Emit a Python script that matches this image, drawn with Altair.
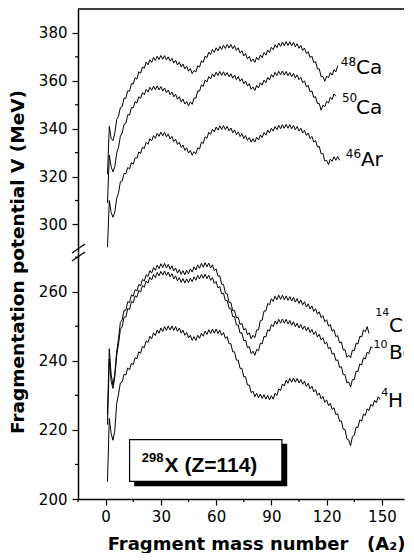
import altair as alt
import pandas as pd

# ---------------- data (fragment mass number A2 starts at 1) ----------------
A_START = 1

ca48 = [321, 341, 336, 335, 338.2, 343.8, 345.2, 348.8, 349.2, 352.8,
        352.7, 355.8, 355.7, 358.8, 358.7, 361.3, 360.7, 363.8, 363.2, 365.8,
        365.2, 367.8, 366.7, 368.8, 367.7, 369.8, 368.5, 370.3, 368.9, 370.6,
        369.0, 370.5, 368.7, 370.0, 368.2, 369.4, 367.4, 368.6, 366.6, 367.8,
        365.8, 367.0, 365.0, 366.1, 364.0, 365.1, 363.0, 364.3, 363.7, 366.3,
        365.7, 368.3, 367.7, 370.3, 369.7, 372.0, 371.0, 373.1, 371.9, 373.8,
        372.5, 374.4, 373.1, 374.9, 373.5, 375.2, 373.7, 375.2, 373.4, 374.7,
        372.7, 373.8, 371.6, 372.6, 370.4, 371.4, 369.2, 370.2, 368.0, 369.1,
        367.7, 369.8, 368.7, 370.8, 369.7, 371.8, 370.7, 372.8, 371.8, 374.0,
        373.0, 375.1, 373.9, 375.8, 374.4, 376.2, 374.7, 376.4, 374.8, 376.3,
        374.6, 376.0, 374.2, 375.5, 373.6, 374.8, 372.7, 373.7, 371.4, 372.2,
        369.7, 370.3, 367.6, 368.0, 365.0, 365.0, 361.7, 361.8, 359.8, 362.0,
        361.2, 363.4, 362.4, 364.6, 363.7, 366.3]

ca50 = [309, 329, 324, 322, 324.2, 329.8, 332.2, 336.8, 338.2, 341.8,
        342.2, 345.8, 345.7, 348.8, 348.7, 351.3, 350.7, 353.3, 352.7, 355.1,
        354.2, 356.4, 355.3, 357.3, 356.0, 357.8, 356.3, 357.9, 356.2, 357.6,
        355.7, 357.0, 355.0, 356.2, 354.2, 355.4, 353.3, 354.4, 352.3, 353.4,
        351.3, 352.4, 350.3, 351.4, 349.5, 351.2, 350.2, 352.8, 352.7, 355.8,
        355.7, 358.3, 357.7, 360.3, 359.5, 361.8, 360.8, 362.9, 361.7, 363.6,
        362.2, 363.9, 362.3, 363.8, 362.1, 363.5, 361.7, 363.0, 361.1, 362.4,
        360.5, 361.8, 359.8, 360.9, 358.8, 359.9, 357.8, 358.8, 356.5, 357.4,
        356.0, 358.1, 357.0, 359.2, 358.2, 360.3, 359.2, 361.4, 360.4, 362.6,
        361.5, 363.5, 362.2, 364.0, 362.5, 364.1, 362.4, 363.9, 362.1, 363.5,
        361.7, 363.1, 361.2, 362.5, 360.5, 361.5, 359.2, 360.0, 357.5, 358.1,
        355.4, 355.8, 353.0, 353.4, 350.5, 350.5, 347.7, 349.8, 349.2, 351.5,
        350.7, 353.1, 352.2, 354.5, 353.6]

ar46 = [290.5, 310, 305, 303, 305.2, 310.8, 313.2, 317.8, 318.2, 321.3,
        321.2, 323.8, 323.2, 325.8, 325.2, 327.8, 327.7, 330.3, 329.7, 332.3,
        331.7, 334.3, 333.5, 335.8, 334.9, 337.1, 336.0, 338.1, 336.8, 338.6,
        337.0, 338.5, 336.6, 337.8, 335.7, 336.8, 334.6, 335.6, 333.4, 334.4,
        332.2, 333.2, 331.0, 332.0, 329.8, 330.9, 328.9, 330.4, 329.5, 332.0,
        331.5, 334.3, 333.9, 336.6, 336.0, 338.5, 337.6, 339.8, 338.7, 340.7,
        339.4, 341.2, 339.7, 341.3, 339.6, 341.0, 339.1, 340.3, 338.3, 339.5,
        337.5, 338.7, 336.7, 337.9, 335.9, 337.1, 335.1, 336.3, 334.4, 335.8,
        334.4, 336.4, 335.3, 337.4, 336.3, 338.4, 337.3, 339.4, 338.2, 340.2,
        339.0, 340.9, 339.6, 341.4, 340.0, 341.7, 340.2, 341.8, 340.2, 341.7,
        340.0, 341.4, 339.6, 340.9, 339.0, 340.2, 338.2, 339.3, 337.2, 338.2,
        335.9, 336.8, 334.4, 335.1, 332.4, 332.6, 329.5, 329.6, 326.5, 326.8,
        325.0, 327.3, 326.4, 328.3, 326.8, 328.4, 326.8]

c14 = [224.5, 243.5, 236, 233, 236.4, 242.6, 246.4, 251.1, 251.9, 254.6,
       254.7, 257.1, 256.9, 259.1, 258.7, 260.6, 260.2, 262.1, 261.7, 263.6,
       263.1, 264.9, 264.4, 266.1, 265.4, 267.0, 266.2, 267.7, 266.7, 268.1,
       267.0, 268.2, 266.9, 267.9, 266.5, 267.5, 266.0, 266.9, 265.4, 266.4,
       265.0, 266.1, 264.9, 266.2, 265.2, 266.6, 265.7, 267.2, 266.3, 267.8,
       266.8, 268.2, 267.1, 268.4, 267.2, 268.3, 266.9, 267.8, 266.1, 266.6,
       264.5, 264.6, 262.2, 262.1, 259.6, 259.4, 256.9, 256.9, 254.5, 254.6,
       252.4, 252.6, 250.5, 250.9, 248.9, 249.4, 247.5, 248.1, 246.4, 247.4,
       246.7, 248.9, 249.0, 251.6, 251.8, 254.4, 254.4, 256.6, 256.2, 258.0,
       257.2, 258.7, 257.7, 259.0, 257.8, 259.0, 257.7, 258.8, 257.5, 258.6,
       257.3, 258.4, 257.0, 258.0, 256.6, 257.6, 256.2, 257.1, 255.6, 256.5,
       255.0, 255.9, 254.3, 255.1, 253.5, 254.2, 252.5, 253.1, 251.3, 251.9,
       250.0, 250.5, 248.6, 249.0, 247.0, 247.3, 245.2, 245.4, 243.1, 243.2,
       241.0, 241.6, 240.9, 243.1, 242.9, 245.1, 244.9, 247.1, 246.9, 248.9,
       248.4, 249.9, 247.9]

be10 = [221.5, 240.5, 234, 232, 235.4, 241.6, 244.9, 249.1, 249.9, 252.6,
        252.7, 255.1, 254.9, 257.1, 256.8, 258.8, 258.4, 260.4, 259.9, 261.8,
        261.3, 263.1, 262.5, 264.2, 263.4, 265.0, 264.1, 265.6, 264.6, 265.9,
        264.8, 266.0, 264.7, 265.7, 264.3, 265.2, 263.7, 264.6, 263.1, 264.1,
        262.7, 263.8, 262.5, 263.7, 262.6, 263.9, 262.9, 264.3, 263.3, 264.7,
        263.7, 265.0, 263.9, 265.1, 263.8, 264.8, 263.3, 264.1, 262.4, 263.0,
        261.1, 261.5, 259.4, 259.6, 257.4, 257.5, 255.2, 255.2, 252.8, 252.8,
        250.4, 250.4, 248.0, 248.1, 245.8, 246.0, 243.8, 244.1, 242.1, 242.8,
        241.6, 243.3, 242.9, 245.1, 244.9, 247.1, 246.9, 249.0, 248.6, 250.5,
        249.9, 251.5, 250.6, 252.0, 250.9, 252.1, 250.9, 252.0, 250.7, 251.7,
        250.3, 251.3, 249.9, 250.9, 249.5, 250.5, 249.1, 250.1, 248.7, 249.7,
        248.2, 249.1, 247.6, 248.5, 246.9, 247.7, 246.0, 246.7, 244.9, 245.4,
        243.5, 243.9, 241.9, 242.2, 240.1, 240.3, 238.1, 238.3, 236.0, 236.0,
        233.6, 233.9, 232.4, 234.6, 234.6, 237.0, 236.9, 239.1, 238.8, 240.9,
        240.5, 242.5, 242.1, 244.1, 243.7]

he4 = [205, 223.3, 219, 217, 219.9, 227.6, 230.4, 233.6, 233.9, 236.1,
       235.9, 237.9, 237.4, 239.3, 238.9, 240.9, 240.6, 242.6, 242.2, 244.2,
       243.8, 245.8, 245.3, 247.1, 246.4, 248.1, 247.3, 248.9, 248.0, 249.5,
       248.5, 249.9, 248.8, 250.1, 248.9, 250.1, 248.8, 249.9, 248.5, 249.5,
       248.0, 248.9, 247.4, 248.2, 246.6, 247.4, 245.9, 247.0, 245.9, 247.4,
       246.5, 248.0, 247.1, 248.6, 247.6, 249.0, 247.9, 249.2, 248.0, 249.2,
       247.9, 248.9, 247.4, 248.2, 246.5, 247.0, 244.9, 245.0, 242.6, 242.6,
       240.2, 240.2, 237.8, 237.8, 235.4, 235.4, 233.0, 233.0, 230.8, 231.2,
       229.6, 230.6, 229.3, 230.4, 229.1, 230.2, 228.9, 230.0, 228.7, 229.9,
       228.9, 230.6, 230.0, 231.9, 231.4, 233.3, 232.7, 234.4, 233.5, 234.9,
       233.8, 235.0, 233.8, 234.9, 233.6, 234.6, 233.2, 234.1, 232.6, 233.5,
       231.9, 232.7, 231.0, 231.7, 230.0, 230.7, 229.0, 229.7, 228.0, 228.7,
       227.0, 227.7, 225.9, 226.4, 224.4, 224.7, 222.5, 222.6, 220.2, 220.1,
       217.4, 217.1, 215.4, 218.1, 218.4, 220.8, 220.7, 222.9, 222.6, 224.6,
       224.2, 226.1, 225.6, 227.4, 226.8, 228.6, 227.9, 229.6, 228.8]

# curve labels (mass number superscript + element symbol), data coordinates
up_sup = ["48", "50", "46"]
up_sup_x = [127.7, 128.3, 130.4]
up_sup_y = [368.0, 352.8, 329.3]
up_sym = ["Ca", "Ca", "Ar"]
up_sym_x = [135.9, 135.9, 138.6]
up_sym_y = [365.2, 348.7, 326.8]

lo_sup = ["14", "10", "4"]
lo_sup_x = [146.4, 145.4, 149.6]
lo_sup_y = [253.7, 244.7, 230.7]
lo_sym = ["C", "Be", "He"]
lo_sym_x = [153.8, 153.8, 153.3]
lo_sym_y = [250.2, 242.3, 228.4]

# boxed annotation
box_x = [13.0, 95.7]
box_y = [205.1, 217.2]
shadow_x = [15.5, 98.6]
shadow_y = [203.7, 216.0]
box_sup = "298"
box_sup_pos = [19.6, 211.8]
box_txt = "X (Z=114)"
box_txt_pos = [32.0, 209.6]

# ticks
x_major = [0, 30, 60, 90, 120, 150]
x_minor = [-15, 15, 45, 75, 105, 135]
y_major_up = [300, 320, 340, 360, 380]
y_minor_up = [310, 330, 350, 370]
y_major_lo = [200, 220, 240, 260]
y_minor_lo = [210, 230, 250, 270]

X_DOMAIN = [-15, 162]
UP_DOMAIN = [288.5, 390]
LO_DOMAIN = [200, 271.5]
W = 326
H_UP = 243
H_LO = 247
FONT = "DejaVu Sans"


def long(series):
    rows = []
    for name, vals in series.items():
        for i, v in enumerate(vals):
            rows.append({"ion": name, "A": A_START + i, "V": v})
    return pd.DataFrame(rows)


up_df = long({"48Ca": ca48, "50Ca": ca50, "46Ar": ar46})
lo_df = long({"14C": c14, "10Be": be10, "4He": he4})

xs = alt.Scale(domain=X_DOMAIN, nice=False, zero=False)
ys_up = alt.Scale(domain=UP_DOMAIN, nice=False, zero=False)
ys_lo = alt.Scale(domain=LO_DOMAIN, nice=False, zero=False)

y_axis_up = alt.Axis(values=y_major_up, tickSize=6, title=None, labelPadding=5)
y_axis_lo = alt.Axis(values=y_major_lo, tickSize=6, title=None, labelPadding=5)
x_axis_bot = alt.Axis(values=x_major, tickSize=6, labelPadding=4, labelOverlap=False,
                      title="Fragment mass number\u00a0\u00a0\u00a0(A\u2082)",
                      titleFont=FONT, titleFontSize=18, titleFontWeight="bold",
                      titleX=178, titleY=50, titleBaseline="alphabetic",
                      titleAlign="center")

one = alt.Data(values=[{}])


def txt(df, scale_y, size, clip=False, x_axis_off=False):
    xenc = alt.X("A:Q", scale=xs, axis=None) if x_axis_off else alt.X("A:Q", scale=xs)
    return alt.Chart(df).mark_text(
        font=FONT, fontSize=size, align="left", baseline="middle", color="black", clip=clip
    ).encode(x=xenc, y=alt.Y("V:Q", scale=scale_y), text="t:N")


def y_minor(vals, scale_y):
    return alt.Chart(pd.DataFrame({"V": vals})).mark_rule(color="black", strokeWidth=1.2).encode(
        y=alt.Y("V:Q", scale=scale_y), x=alt.value(-3), x2=alt.value(0))


# ---------------- upper panel (no x axis: axis None in every layer) ----------------
up_lines = alt.Chart(up_df).mark_line(color="black", strokeWidth=1).encode(
    x=alt.X("A:Q", scale=xs, axis=None),
    y=alt.Y("V:Q", scale=ys_up, axis=y_axis_up),
    detail="ion:N",
    order="A:Q",
)
top_frame = alt.Chart(one).mark_rule(color="black", strokeWidth=1.5).encode(
    x=alt.value(0), x2=alt.value(W), y=alt.value(0))
up_sup_txt = txt(pd.DataFrame({"t": up_sup, "A": up_sup_x, "V": up_sup_y}), ys_up, 12, x_axis_off=True)
up_sym_txt = txt(pd.DataFrame({"t": up_sym, "A": up_sym_x, "V": up_sym_y}), ys_up, 20, x_axis_off=True)

upper = alt.layer(up_lines, top_frame, y_minor(y_minor_up, ys_up), up_sup_txt, up_sym_txt
                  ).properties(width=W, height=H_UP)

# ---------------- lower panel ----------------
lo_lines = alt.Chart(lo_df).mark_line(color="black", strokeWidth=1).encode(
    x=alt.X("A:Q", scale=xs, axis=x_axis_bot),
    y=alt.Y("V:Q", scale=ys_lo, axis=y_axis_lo),
    detail="ion:N",
    order="A:Q",
)
x_minor_ticks = alt.Chart(pd.DataFrame({"A": x_minor})).mark_rule(color="black", strokeWidth=1.2).encode(
    x=alt.X("A:Q", scale=xs), y=alt.value(H_LO), y2=alt.value(H_LO + 3))
lo_sup_txt = txt(pd.DataFrame({"t": lo_sup, "A": lo_sup_x, "V": lo_sup_y}), ys_lo, 11, clip=True)
lo_sym_txt = txt(pd.DataFrame({"t": lo_sym, "A": lo_sym_x, "V": lo_sym_y}), ys_lo, 20, clip=True)

shadow_df = pd.DataFrame({"x1": [shadow_x[0]], "x2": [shadow_x[1]],
                          "y1": [shadow_y[0]], "y2": [shadow_y[1]]})
box_df = pd.DataFrame({"x1": [box_x[0]], "x2": [box_x[1]],
                       "y1": [box_y[0]], "y2": [box_y[1]]})
shadow = alt.Chart(shadow_df).mark_rect(color="black").encode(
    x=alt.X("x1:Q", scale=xs), x2="x2:Q",
    y=alt.Y("y1:Q", scale=ys_lo), y2="y2:Q")
box = alt.Chart(box_df).mark_rect(fill="white", stroke="black", strokeWidth=1.2).encode(
    x=alt.X("x1:Q", scale=xs), x2="x2:Q",
    y=alt.Y("y1:Q", scale=ys_lo), y2="y2:Q")
box_sup_t = alt.Chart(pd.DataFrame({"t": [box_sup], "A": [box_sup_pos[0]], "V": [box_sup_pos[1]]})).mark_text(
    font="Liberation Sans", fontSize=13, fontWeight="bold", align="left", baseline="middle", color="black"
).encode(x=alt.X("A:Q", scale=xs), y=alt.Y("V:Q", scale=ys_lo), text="t:N")
box_txt_t = alt.Chart(pd.DataFrame({"t": [box_txt], "A": [box_txt_pos[0]], "V": [box_txt_pos[1]]})).mark_text(
    font="Liberation Sans", fontSize=21, fontWeight="bold", align="left", baseline="middle", color="black"
).encode(x=alt.X("A:Q", scale=xs), y=alt.Y("V:Q", scale=ys_lo), text="t:N")

slash1 = alt.Chart(one).mark_rule(color="black", strokeWidth=1.2).encode(
    x=alt.value(-6), x2=alt.value(7), y=alt.value(1), y2=alt.value(-8))
slash2 = alt.Chart(one).mark_rule(color="black", strokeWidth=1.2).encode(
    x=alt.value(-6), x2=alt.value(7), y=alt.value(9), y2=alt.value(0))
y_title = alt.Chart(one).mark_text(
    text="Fragmentation potential V (MeV)", font=FONT, fontSize=18.5, fontWeight="bold",
    angle=270, align="center", baseline="middle", color="black"
).encode(x=alt.value(-60), y=alt.value(10))

lower = alt.layer(lo_lines, x_minor_ticks, y_minor(y_minor_lo, ys_lo), lo_sup_txt, lo_sym_txt,
                  shadow, box, box_sup_t, box_txt_t, slash1, slash2, y_title
                  ).properties(width=W, height=H_LO)

chart = alt.vconcat(upper, lower, spacing=0, bounds="flush").properties(
    padding={"left": 0, "top": 0, "right": 0, "bottom": 0}
).configure_view(strokeWidth=0).configure_axis(
    grid=False, domainColor="black", domainWidth=1.5, tickColor="black", tickWidth=1.2,
    labelColor="black", labelFont=FONT, labelFontSize=15, titleColor="black"
)

chart.save("out.html", embed_options={"renderer": "svg", "actions": False})
